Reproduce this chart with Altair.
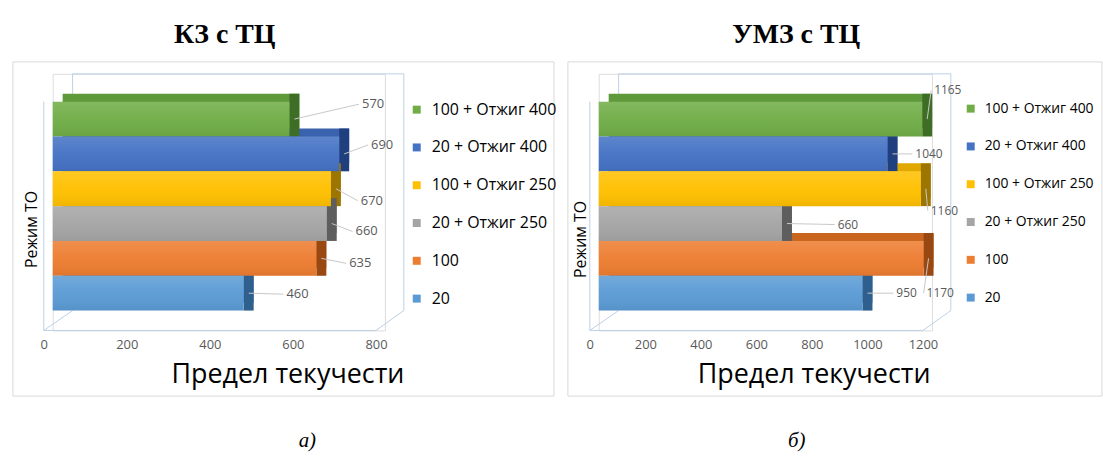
import altair as alt
import pandas as pd

# ---------------- data ----------------
categories = ["100 + Отжиг 400", "20 + Отжиг 400", "100 + Отжиг 250",
              "20 + Отжиг 250", "100", "20"]
kz_values = [570, 690, 670, 660, 635, 460]
umz_values = [1165, 1040, 1160, 660, 1170, 950]
kz_ticks = [0, 200, 400, 600, 800]
umz_ticks = [0, 200, 400, 600, 800, 1000, 1200]

# ---------------- styles ----------------
front_colors = ["#70AD47", "#4472C4", "#FFC000", "#A5A5A5", "#ED7D31", "#5B9BD5"]
top_colors = ["#5E9A3A", "#3A62AE", "#E0A800", "#8C8C8C", "#C9651F", "#4A86BE"]
side_colors = ["#3E6E26", "#203F7F", "#9C7600", "#5E5E5E", "#994812", "#2F5F8C"]

kz_label_offsets = [(73, -15), (32, -9), (30, 12), (29, 8), (33, 5), (43, 1)]
umz_label_offsets = [(12, -29), (28, 0), (10, 22), (56, 1), (3, 35), (34, 0)]

FONT = "Open Sans"
WALL = "#bcd0e6"
H = 258
DEPTH_X, DEPTH_Y = 10, 8


def panel(title, values, xmax, ticks, W, frame_l, frame_r, ytitle_x, ytitle_y,
          xtitle_x, legend_x, legend_size, caption, cap_x, offsets, title_dx, label_size):
    df = pd.DataFrame({
        "cat": categories,
        "value": values,
        "row": list(range(len(categories))),
        "top": top_colors,
        "side": side_colors,
    })
    base = alt.Chart(df).transform_calculate(
        lo="datum.row - 0.5", hi="datum.row + 0.5", zero="0"
    )
    xs = alt.Scale(domain=[0, xmax], nice=False, zero=True)
    ys = alt.Scale(domain=[-1.3, 6.07], reverse=True, nice=False, zero=False)

    x_axis = alt.Axis(values=ticks, format="d", grid=False, ticks=False, domain=False,
                      labelOffset=-9, labelPadding=8, labelFontSize=13,
                      labelFlush=False, labelOverlap=False,
                      labelColor="#595959", labelFont=FONT,
                      title="Предел текучести", titleFont=FONT,
                      titleFontSize=27, titleFontWeight="normal",
                      titleColor="black", titleX=xtitle_x, titleY=52,
                      titleAlign="center", titleBaseline="alphabetic")
    y_axis = alt.Axis(labels=False, ticks=False, grid=False, domain=False,
                      title="Режим ТО", titleFont=FONT, titleFontSize=16,
                      titleFontWeight="normal", titleColor="black",
                      titleX=ytitle_x, titleY=ytitle_y, titleAlign="center",
                      titleBaseline="alphabetic", titleAngle=270)

    def X(field):
        return alt.X(field, scale=xs, axis=x_axis)

    def Y(field):
        return alt.Y(field, scale=ys, axis=y_axis)

    one = alt.Chart(alt.Data(values=[{"k": 1}]))
    frame = one.mark_rect(fill="white", fillOpacity=0, stroke="#d9d9d9", strokeWidth=1).encode(
        x=alt.value(frame_l), x2=alt.value(frame_r), y=alt.value(-12), y2=alt.value(324)
    )
    segs = [
        (20, 0, W + 19, 0),          # back wall top
        (W + 19, 0, W + 19, H - 20),  # back wall right
        (20, 0, 20, 28),             # back wall left
        (-9, H, W - 9, H),           # floor front edge
        (W - 9, H, W + 19, H - 20),  # floor right diagonal
        (-9, H, 20, H - 20),         # floor left diagonal
        (-9, 28, -9, H),             # side wall front edge
    ]
    wall_layers = [
        one.mark_rule(color=WALL, strokeWidth=1).encode(
            x=alt.value(a), y=alt.value(b), x2=alt.value(c), y2=alt.value(d))
        for a, b, c, d in segs
    ]

    back = base.mark_rect(xOffset=DEPTH_X, x2Offset=DEPTH_X,
                          yOffset=-DEPTH_Y, y2Offset=-DEPTH_Y).encode(
        x=X("zero:Q"), x2="value:Q", y=Y("lo:Q"), y2="hi:Q",
        color=alt.Color("top:N", scale=None),
    )

    side = base.mark_rect(x2Offset=DEPTH_X, yOffset=-DEPTH_Y).encode(
        x=X("value:Q"), x2="value:Q", y=Y("lo:Q"), y2="hi:Q",
        color=alt.Color("side:N", scale=None),
    )

    front = base.mark_rect().encode(
        x=X("zero:Q"), x2="value:Q", y=Y("lo:Q"), y2="hi:Q",
        fill=alt.Fill("cat:N",
                      scale=alt.Scale(domain=categories, range=front_colors),
                      sort=categories,
                      legend=alt.Legend(orient="none", legendX=legend_x, legendY=28,
                                        title=None, symbolType="square", symbolSize=64,
                                        symbolStrokeWidth=0, labelFont=FONT,
                                        labelFontSize=legend_size, labelColor="black",
                                        rowPadding=38 - legend_size, labelOffset=7,
                                        padding=0, labelLimit=300)),
    )

    shade = base.mark_rect(
        fill=alt.LinearGradient(
            gradient="linear", x1=0, x2=0, y1=0, y2=1,
            stops=[alt.GradientStop(color="rgba(255,255,255,0.14)", offset=0),
                   alt.GradientStop(color="rgba(255,255,255,0.03)", offset=0.5),
                   alt.GradientStop(color="rgba(0,0,0,0.06)", offset=1)])
    ).encode(x=X("zero:Q"), x2="value:Q", y=Y("lo:Q"), y2="hi:Q")

    label_layers = []
    for i, (dx, dy) in enumerate(offsets):
        sub = base.transform_filter(f"datum.row == {i}")
        label_layers.append(
            sub.mark_rule(color="#c8c8c8", strokeWidth=1, xOffset=5, x2Offset=dx - 3,
                          y2Offset=dy).encode(
                x=X("value:Q"), x2="value:Q", y=Y("row:Q"), y2="row:Q")
        )
        label_layers.append(
            sub.mark_text(align="left", baseline="middle", dx=dx, dy=dy,
                          font=FONT, fontSize=label_size, color="#595959").encode(
                x=X("value:Q"), y=Y("row:Q"), text="value:Q")
        )

    cap = one.mark_text(font="Liberation Serif", fontStyle="italic", fontSize=21,
                        color="black", align="center", baseline="middle").encode(
        x=alt.value(cap_x), y=alt.value(369), text=alt.value(caption))

    layers = [frame] + wall_layers + [back, side, front, shade] + label_layers + [cap]
    return alt.layer(*layers).properties(
        width=W, height=H,
        title=alt.TitleParams(title, font="Liberation Serif", fontSize=28,
                              fontWeight="bold", color="black", anchor="middle",
                              frame="group", dx=title_dx, offset=12),
    )


left = panel("КЗ с ТЦ", kz_values, 800, kz_ticks, 334, -40, 504, -16, 156,
             236, 358, 16, "а)", 256, kz_label_offsets, 6, 13)
right = panel("УМЗ с ТЦ", umz_values, 1200, umz_ticks, 335, -31, 506, -13, 166,
              216, 367, 14, "б)", 199, umz_label_offsets, 31, 12)

chart = alt.hconcat(left, right, spacing=9).resolve_scale(
    fill="independent", x="independent", y="independent"
).resolve_legend(fill="independent").properties(
    padding={"left": 12, "top": 20, "right": 0, "bottom": 0}
).configure_view(stroke=None).configure(font=FONT, background="white")

chart.save("out.html", embed_options={"renderer": "svg", "actions": False})
